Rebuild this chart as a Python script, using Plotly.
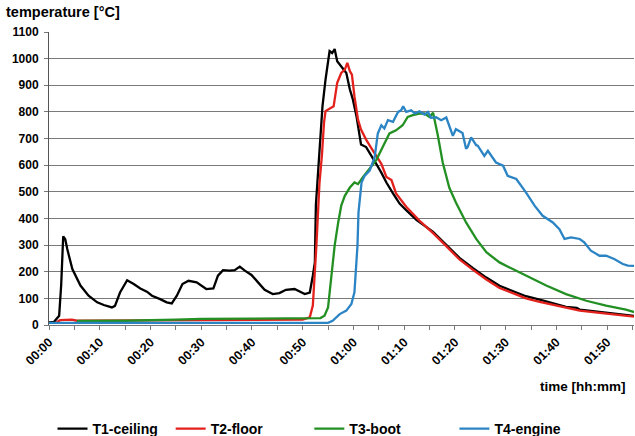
import plotly.graph_objects as go

# ---- data (time in minutes, temperature in °C) ----
t_ceiling = [0, 1.0, 2.0, 2.4, 2.8, 3.2, 3.6, 4.6, 6.2, 7.8,
             9.5, 10.8, 12.4, 13.0, 14.0, 15.4, 16.7, 18.0, 19.3, 20.3,
             21.9, 23.2, 24.2, 25.2, 26.3, 27.5, 29.1, 30.1, 31.0, 32.4,
             33.3, 34.3, 35.6, 36.6, 37.6, 38.6, 39.9, 41.2, 42.5, 44.1,
             45.4, 46.7, 48.4, 50.4, 51.4, 52.0, 52.4, 52.6, 53.0, 53.3,
             53.9, 54.5, 55.3, 55.8, 56.3, 56.8, 57.6, 58.6, 59.3, 59.9,
             60.6, 61.2, 61.5, 62.5, 63.5, 64.5, 65.5, 66.5, 67.8, 69.1,
             70.4, 72.4, 75.7, 78.3, 80.9, 83.5, 86.2, 88.8, 91.4, 94.0,
             96.7, 99.3, 101.9, 104.0, 104.6, 107.2, 109.8, 112.4, 115.4]
v_ceiling = [10, 12, 35, 150, 333, 322, 285, 210, 148, 110,
             85, 75, 66, 72, 122, 168, 154, 137, 125, 110,
             97, 85, 81, 110, 154, 166, 160, 148, 135, 137,
             185, 206, 204, 206, 219, 204, 188, 160, 132, 116,
             120, 132, 135, 116, 122, 185, 235, 450, 560, 659,
             821, 921, 1028, 1021, 1036, 990, 971, 946, 884, 846,
             784, 721, 678, 668, 638, 605, 572, 535, 494, 456,
             431, 395, 350, 302, 252, 214, 178, 147, 128, 108,
             95, 82, 68, 64, 58, 52, 47, 41, 34]

t_floor = [1.5, 2.2, 4.5, 5.5, 20, 35, 50, 51.4, 52.0, 52.7,
           53.3, 53.8, 54.2, 54.5, 55.5, 56.1, 56.8, 57.6, 58.3, 58.8,
           59.3, 59.7, 60.2, 60.9, 61.5, 62.5, 63.5, 64.5, 65.5, 66.5,
           67.5, 68.4, 70.4, 73.0, 75.7, 78.3, 80.9, 83.5, 86.2, 88.8,
           91.4, 94.0, 96.7, 99.3, 101.9, 104.6, 107.2, 109.8, 112.4, 115.4]
v_floor = [10, 18, 20, 16, 17, 18, 20, 29, 73, 298,
           530, 640, 759, 803, 815, 821, 909, 946, 959, 984,
           953, 940, 859, 771, 734, 696, 665, 635, 605, 556,
           544, 494, 444, 392, 345, 296, 246, 208, 171, 139,
           120, 100, 87, 76, 63, 54, 48, 43, 38, 31]

t_boot = [5.5, 15, 25, 30, 40, 50, 53.5, 54.3, 55.0, 55.6,
          56.3, 57.0, 57.6, 58.3, 59.3, 60.2, 60.9, 61.9, 62.9, 64.5,
          65.8, 67.1, 68.4, 69.7, 70.7, 71.7, 73.0, 74.0, 75.0, 75.7,
          76.6, 77.6, 78.9, 80.2, 82.2, 84.2, 86.2, 88.8, 91.4, 94.0,
          98.0, 101.9, 105.9, 109.8, 113.7, 115.4]
v_boot = [15, 16, 20, 23, 24, 25, 26, 35, 66, 173,
          298, 385, 448, 485, 516, 535, 529, 556, 581, 619,
          669, 719, 731, 750, 781, 788, 794, 794, 781, 797,
          715, 610, 515, 460, 385, 323, 273, 235, 210, 185,
          148, 116, 91, 73, 58, 48]

t_engine = [0, 20, 40, 55.0, 55.9, 57.3, 58.6, 59.6, 60.2, 60.8,
            61.0, 61.6, 62.2, 63.2, 64.2, 64.8, 65.5, 66.1, 66.8, 67.8,
            68.8, 69.4, 69.8, 70.4, 71.4, 72.1, 73.0, 74.0, 74.7, 75.3,
            76.3, 77.3, 78.3, 78.9, 79.6, 80.2, 80.6, 81.5, 82.2, 82.5,
            83.2, 84.2, 84.5, 85.8, 86.5, 88.1, 89.5, 90.4, 92.1, 94.0,
            95.7, 97.3, 99.3, 100.6, 101.6, 102.9, 104.6, 105.5, 106.8, 108.5,
            109.8, 111.4, 113.1, 114.1, 115.4]
v_engine = [8, 8, 8, 8, 16, 41, 54, 79, 123, 298,
            423, 535, 560, 580, 631, 719, 750, 738, 769, 763,
            800, 806, 821, 800, 806, 794, 802, 790, 800, 778,
            780, 769, 779, 748, 710, 735, 731, 721, 662, 668,
            704, 675, 673, 635, 654, 610, 598, 560, 548, 498,
            448, 410, 385, 360, 323, 329, 323, 310, 279, 260,
            260, 248, 229, 223, 222]

series_names = ["T1-ceiling", "T2-floor", "T3-boot", "T4-engine"]
series_colors = ["#000000", "#e3211c", "#239023", "#2b84c4"]

x_tick_vals = list(range(0, 116, 5))
x_tick_text = ["00:00", "", "00:10", "", "00:20", "", "00:30", "", "00:40", "",
               "00:50", "", "01:00", "", "01:10", "", "01:20", "", "01:30", "",
               "01:40", "", "01:50", ""]
y_tick_vals = list(range(0, 1101, 100))

# ---- figure ----
FONT = "Arial, Liberation Sans, sans-serif"
fig = go.Figure()
series = [(t_ceiling, v_ceiling), (t_floor, v_floor), (t_boot, v_boot), (t_engine, v_engine)]
legend_ids = ["legend", "legend2", "legend3", "legend4"]
for (tx, vy), name, col, lg in zip(series, series_names, series_colors, legend_ids):
    fig.add_trace(go.Scatter(x=tx, y=vy, mode="lines", name=name,
                             line=dict(color=col, width=2.3), legend=lg))

legend_x = [0.006, 0.208, 0.445, 0.693]
leg_common = dict(orientation="h", xanchor="left", yanchor="middle", y=-0.355,
                  bgcolor="rgba(0,0,0,0)", itemwidth=30,
                  font=dict(family=FONT, size=14, color="black", weight="bold"))
legends = {}
for lg, lx in zip(legend_ids, legend_x):
    legends[lg] = dict(x=lx, **leg_common)

fig.update_layout(
    width=635, height=436,
    margin=dict(l=49, r=1, t=32, b=111, autoexpand=False),
    plot_bgcolor="white", paper_bgcolor="white",
    font=dict(family=FONT, size=12, color="black"),
    showlegend=True,
    **legends,
    xaxis=dict(range=[0, 115.3], tickmode="array", tickvals=x_tick_vals, ticktext=x_tick_text,
               tickangle=-45, ticks="outside", ticklen=4, tickcolor="#777",
               showline=True, linecolor="#777", linewidth=1, showgrid=False, zeroline=False,
               automargin=False,
               tickfont=dict(family=FONT, size=12.5, color="black", weight="bold")),
    yaxis=dict(range=[0, 1100], tickmode="array", tickvals=y_tick_vals,
               ticks="outside", ticklen=4, tickcolor="#777", ticklabelstandoff=3,
               showline=True, linecolor="#555", linewidth=1, automargin=False,
               showgrid=True, gridcolor="#7a7a7a", gridwidth=1, zeroline=False,
               tickfont=dict(family=FONT, size=12, color="black", weight="bold")),
    annotations=[
        dict(text="temperature [°C]", xref="paper", yref="paper", x=-0.0769, y=1.068,
             xanchor="left", yanchor="middle", showarrow=False,
             font=dict(family=FONT, size=14.5, color="black", weight="bold")),
        dict(text="time [hh:mm]", xref="paper", yref="paper", x=0.9897, y=-0.2116,
             xanchor="right", yanchor="middle", showarrow=False,
             font=dict(family=FONT, size=13.5, color="black", weight="bold")),
    ],
)

fig.write_html("out.html")
